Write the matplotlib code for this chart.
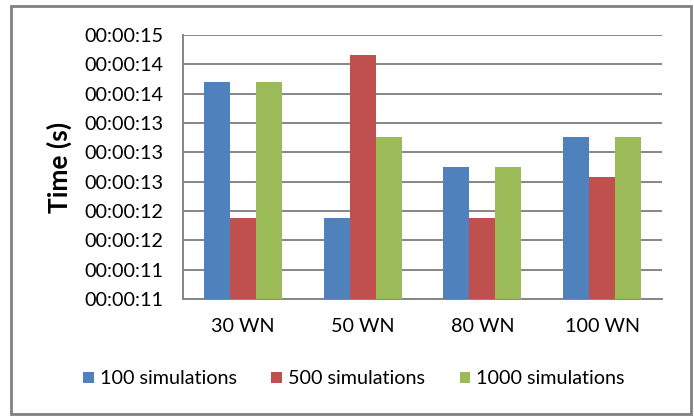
import matplotlib.pyplot as plt
import numpy as np
from matplotlib.patches import Rectangle

# datos
categorias = ['30 WN', '50 WN', '80 WN', '100 WN']
series = ['100 simulations', '500 simulations', '1000 simulations']
sim_100 = [13.96, 12.11, 12.80, 13.21]
sim_500 = [12.11, 14.33, 12.11, 12.66]
sim_1000 = [13.96, 13.21, 12.80, 13.21]
colores = ['#4F81BD', '#C0504D', '#9BBB59']

# ticks del eje y (el formato hh:mm:ss redondea, por eso se repiten)
y_ticks = [11.0, 11.4, 11.8, 12.2, 12.6, 13.0, 13.4, 13.8, 14.2, 14.6]
y_labels = ['00:00:11', '00:00:11', '00:00:12', '00:00:12', '00:00:13',
            '00:00:13', '00:00:13', '00:00:14', '00:00:14', '00:00:15']

plt.rcParams['font.family'] = ['Lato', 'DejaVu Sans']
fs = 14.2

fig = plt.figure(figsize=(6.94, 4.16), dpi=100)
ax = fig.add_axes([183/694, 1 - 299/416, (662 - 183)/694, (299 - 35)/416])

x = np.arange(len(categorias))
ancho = 0.217
for i, (vals, nombre) in enumerate(zip([sim_100, sim_500, sim_1000], series)):
    ax.bar(x + (i - 1) * ancho, np.array(vals) - y_ticks[0], width=ancho,
           bottom=y_ticks[0], color=colores[i], label=nombre, zorder=3)

ax.set_xlim(-0.5, len(categorias) - 0.5)
ax.set_ylim(y_ticks[0], y_ticks[-1])
ax.set_yticks(y_ticks)
ax.set_yticklabels(y_labels, fontsize=fs)
ax.set_xticks(x)
ax.set_xticklabels(categorias, fontsize=fs)
ax.tick_params(axis='both', length=0)
ax.tick_params(axis='y', pad=14)
ax.tick_params(axis='x', pad=14)
ax.yaxis.grid(True, color='#868686', linewidth=1.4, zorder=0)

for s in ['top', 'right']:
    ax.spines[s].set_visible(False)
ax.spines['left'].set_color('#868686')
ax.spines['bottom'].set_color('#868686')
ax.spines['left'].set_linewidth(1.4)
ax.spines['bottom'].set_linewidth(1.4)

ax.set_ylabel('Time (s)', fontsize=19, fontweight='bold', labelpad=9)

fig.legend(loc='center', bbox_to_anchor=(354/694, 1 - 379/416), ncol=3,
           frameon=False, fontsize=fs, handlelength=0.55, handleheight=0.55,
           handletextpad=0.3, columnspacing=1.75)

# borde exterior del gráfico
fig.patches.append(Rectangle((11/694, 1 - 414/416), (691 - 11)/694, (414 - 6)/416,
                             transform=fig.transFigure, fill=False,
                             edgecolor='#808080', linewidth=2))

fig.savefig('out.png', dpi=100)
